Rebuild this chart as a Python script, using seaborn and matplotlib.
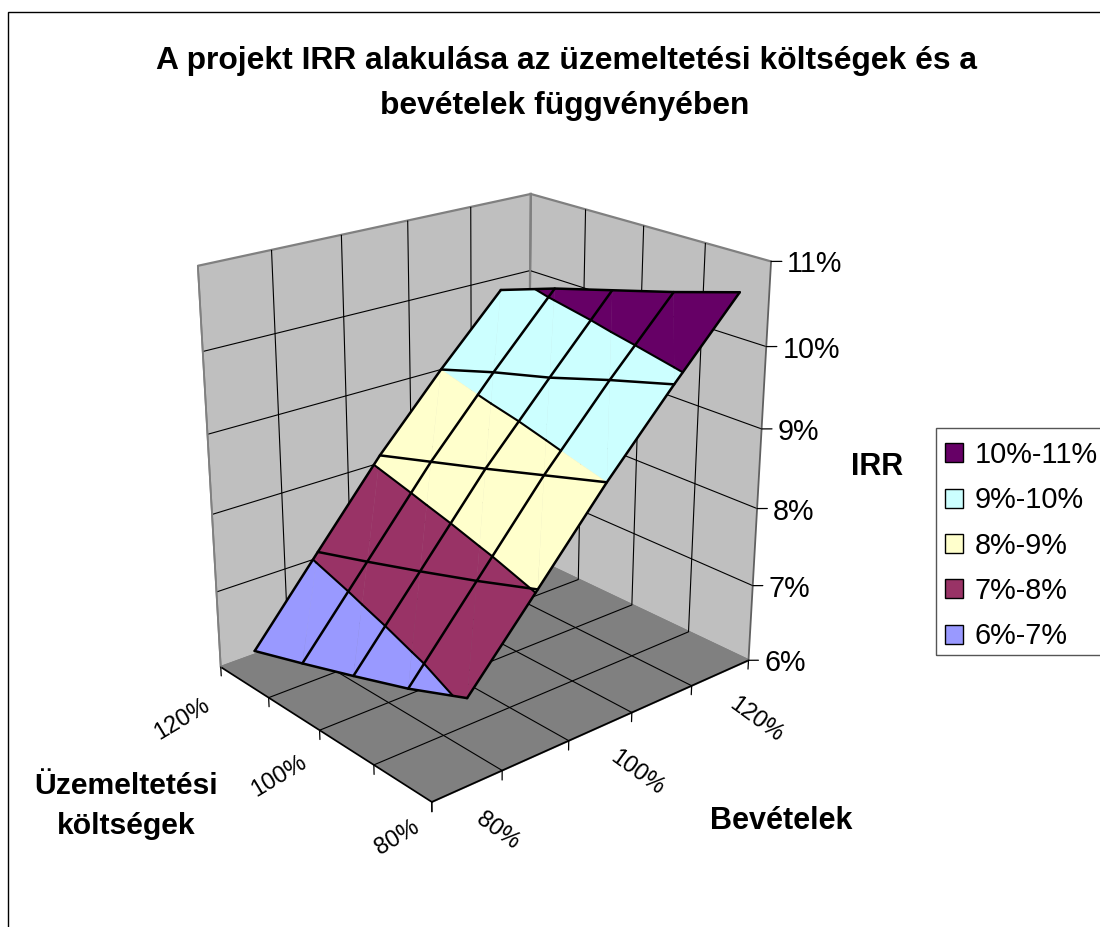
import numpy as np
import matplotlib
matplotlib.use('Agg')
from matplotlib import pyplot as plt
from matplotlib.patches import Patch, Rectangle
from mpl_toolkits.mplot3d import proj3d
from mpl_toolkits.mplot3d.art3d import Poly3DCollection
import seaborn as sns

revenue_levels = [80, 90, 100, 110, 120]
cost_levels = [120, 110, 100, 90, 80]
irr_values = [
    [6.05, 6.28, 6.52, 6.77, 7.07],
    [7.08, 7.30, 7.53, 7.77, 8.03],
    [8.10, 8.32, 8.54, 8.77, 9.00],
    [9.00, 9.23, 9.43, 9.67, 9.89],
    [9.84, 10.09, 10.30, 10.51, 10.74],
]
band_edges = [6, 7, 8, 9, 10, 11]
band_labels = ['6%-7%', '7%-8%', '8%-9%', '9%-10%', '10%-11%']
band_colors = ['#9999FF', '#993366', '#FFFFCC', '#CCFFFF', '#660066']
revenue_ticks = [75, 85, 95, 105, 115, 125]
cost_ticks = [80, 90, 100, 110, 120]
labelled_revenue = [80, 100, 120]
labelled_cost = [120, 100, 80]


def clip_band(tri, lo, hi):
    """Cut one surface triangle down to the part inside an IRR band."""
    poly = tri
    for level, keep_above in [(lo, True), (hi, False)]:
        out = []
        for k in range(len(poly)):
            a, b = poly[k], poly[(k + 1) % len(poly)]
            ina = a[2] >= level if keep_above else a[2] <= level
            inb = b[2] >= level if keep_above else b[2] <= level
            if ina:
                out.append(a)
            if ina != inb:
                t = (level - a[2]) / (b[2] - a[2])
                out.append(tuple(a[m] + t * (b[m] - a[m]) for m in range(3)))
        poly = out
        if not poly:
            break
    return poly


sns.set_theme(style='white')
plt.rcParams['font.family'] = ['Liberation Sans', 'DejaVu Sans']

fig = plt.figure(figsize=(11, 9.27), dpi=100)
ax = fig.add_axes([137.2 / 1100, 106.8 / 927, 678.3 / 1100, 678.3 / 927], projection='3d')
ax.set_xlim(75, 125)
ax.set_ylim(80, 120)
ax.set_zlim(6, 11)
ax.view_init(elev=22.172, azim=-130.635)
ax.set_proj_type('persp', focal_length=0.5377)
ax.set_box_aspect((1, 0.8118, 1.0104))
ax.computed_zorder = False

# Walls and floor
ax.xaxis.set_pane_color((0.75, 0.75, 0.75, 1))
ax.yaxis.set_pane_color((0.75, 0.75, 0.75, 1))
ax.zaxis.set_pane_color((0.5, 0.5, 0.5, 1))
for axis in [ax.xaxis, ax.yaxis, ax.zaxis]:
    axis.pane.set_edgecolor('#808080')
    axis.pane.set_linewidth(1.6)
    axis._axinfo['grid'].update(color='black', linewidth=0.8)
    axis._axinfo['tick'].update(inward_factor=0, outward_factor=0)
ax.xaxis.line.set_color('black')
ax.yaxis.line.set_color('black')
ax.zaxis.line.set_color('#808080')
ax.grid(True)
ax.set_xticks(revenue_ticks[1:-1])
ax.set_yticks(cost_ticks[1:-1])
ax.set_zticks(band_edges[1:-1])
ax.set_xticklabels([])
ax.set_yticklabels([])
ax.set_zticklabels([])

# Vertical wall edges
ax.plot([75, 75], [120, 120], [6, 11], color='#808080', lw=1.3, zorder=3)
ax.plot([125, 125], [120, 120], [6, 11], color='#808080', lw=1.3, zorder=3)
ax.plot([125, 125], [80, 80], [6, 11], color='#606060', lw=1.3, zorder=3)

# Surface, split by IRR band
triangles = []
for i in range(len(revenue_levels) - 1):
    for j in range(len(cost_levels) - 1):
        p00 = (revenue_levels[i], cost_levels[j], irr_values[i][j])
        p01 = (revenue_levels[i], cost_levels[j + 1], irr_values[i][j + 1])
        p10 = (revenue_levels[i + 1], cost_levels[j], irr_values[i + 1][j])
        p11 = (revenue_levels[i + 1], cost_levels[j + 1], irr_values[i + 1][j + 1])
        triangles.append((p00, p01, p10))
        triangles.append((p01, p11, p10))

polys = []
face_colors = []
for b in range(len(band_labels)):
    for tri in triangles:
        poly = clip_band(list(tri), band_edges[b], band_edges[b + 1])
        if len(poly) >= 3:
            polys.append(poly)
            face_colors.append(band_colors[b])
ax.add_collection3d(Poly3DCollection(polys, facecolors=face_colors, edgecolors=face_colors, linewidths=0.3, zorder=5))

# Band boundaries
for level in band_edges[1:-1]:
    for tri in triangles:
        pts = []
        for k in range(3):
            a, b = tri[k], tri[(k + 1) % 3]
            if (a[2] - level) * (b[2] - level) < 0:
                t = (level - a[2]) / (b[2] - a[2])
                pts.append([a[m] + t * (b[m] - a[m]) for m in range(3)])
        if len(pts) == 2:
            ax.plot(*zip(*pts), color='black', lw=1.5, zorder=6, solid_capstyle='round')

# Mesh lines
irr = np.array(irr_values)
for i, rev in enumerate(revenue_levels):
    ax.plot([rev] * len(cost_levels), cost_levels, irr[i], color='black', lw=1.8, zorder=7)
for j, cost in enumerate(cost_levels):
    ax.plot(revenue_levels, [cost] * len(revenue_levels), irr[:, j], color='black', lw=1.8, zorder=7)

# Tick marks
for rev in revenue_ticks:
    ax.plot([rev, rev], [80, 80], [6, 5.88], color='black', lw=0.9, zorder=3)
for cost in cost_ticks:
    ax.plot([75, 75], [cost, cost], [6, 5.88], color='black', lw=0.9, zorder=3)
for level in band_edges:
    ax.plot([125, 125.93], [80, 79.23], [level, level], color='black', lw=0.9, zorder=3)


def label_at(x, y, z, text, dx, dy, **kw):
    """Put a label at a pixel offset from a projected data point."""
    px, py, _ = proj3d.proj_transform(x, y, z, ax.get_proj())
    ax.annotate(text, xy=(px, py), xycoords='data', xytext=(dx, dy), textcoords='offset pixels',
                annotation_clip=False, color='black', **kw)


for rev, off in zip(labelled_revenue, [(30, -45), (37, -47), (36, -47)]):
    label_at(rev, 80, 6, '%d%%' % rev, off[0], off[1], fontsize=17, rotation=-36, ha='center', va='center', rotation_mode='anchor')
for cost, off in zip(labelled_cost, [(-39, -52), (-40, -46), (-35, -36)]):
    label_at(75, cost, 6, '%d%%' % cost, off[0], off[1], fontsize=17, rotation=31, ha='center', va='center', rotation_mode='anchor')
for level in band_edges:
    label_at(125, 80, level, '%d%%' % level, 16, -3, fontsize=20.7, ha='left', va='center')

# Titles
bold = dict(fontweight='bold', ha='center', va='center', color='black')
fig.text(567 / 1100, 1 - 61 / 927, 'A projekt IRR alakulása az üzemeltetési költségek és a', fontsize=22.9, **bold)
fig.text(565 / 1100, 1 - 106 / 927, 'bevételek függvényében', fontsize=22.9, **bold)
fig.text(877 / 1100, 1 - 467 / 927, 'IRR', fontsize=22, **bold)
fig.text(781 / 1100, 1 - 821 / 927, 'Bevételek', fontsize=22, **bold)
fig.text(126 / 1100, 1 - 786 / 927, 'Üzemeltetési', fontsize=21.7, **bold)
fig.text(126 / 1100, 1 - 826 / 927, 'költségek', fontsize=21.7, **bold)

# Legend; the box runs past the image edge, so it is drawn on its own
handles = [Patch(facecolor=c, edgecolor='black', label=l) for c, l in zip(band_colors[::-1], band_labels[::-1])]
fig.legend(handles=handles, loc='upper left', bbox_to_anchor=(936 / 1100, 1 - 432 / 927), bbox_transform=fig.transFigure,
           fontsize=20.8, frameon=False, borderaxespad=0,
           handlelength=0.63, handleheight=0.63, handletextpad=0.39, labelspacing=0.6, borderpad=0.31, labelcolor='black')
fig.add_artist(Rectangle((936 / 1100, 1 - 655 / 927), 0.2, 227 / 927, transform=fig.transFigure, fill=False, edgecolor='#555555', lw=1))

# Chart frame, cut by the image on the right and at the bottom
fig.add_artist(Rectangle((8 / 1100, -0.05), 1.1, 1.05 - 12 / 927, transform=fig.transFigure, fill=False, edgecolor='black', lw=1))

fig.savefig('out.png', dpi=100)
